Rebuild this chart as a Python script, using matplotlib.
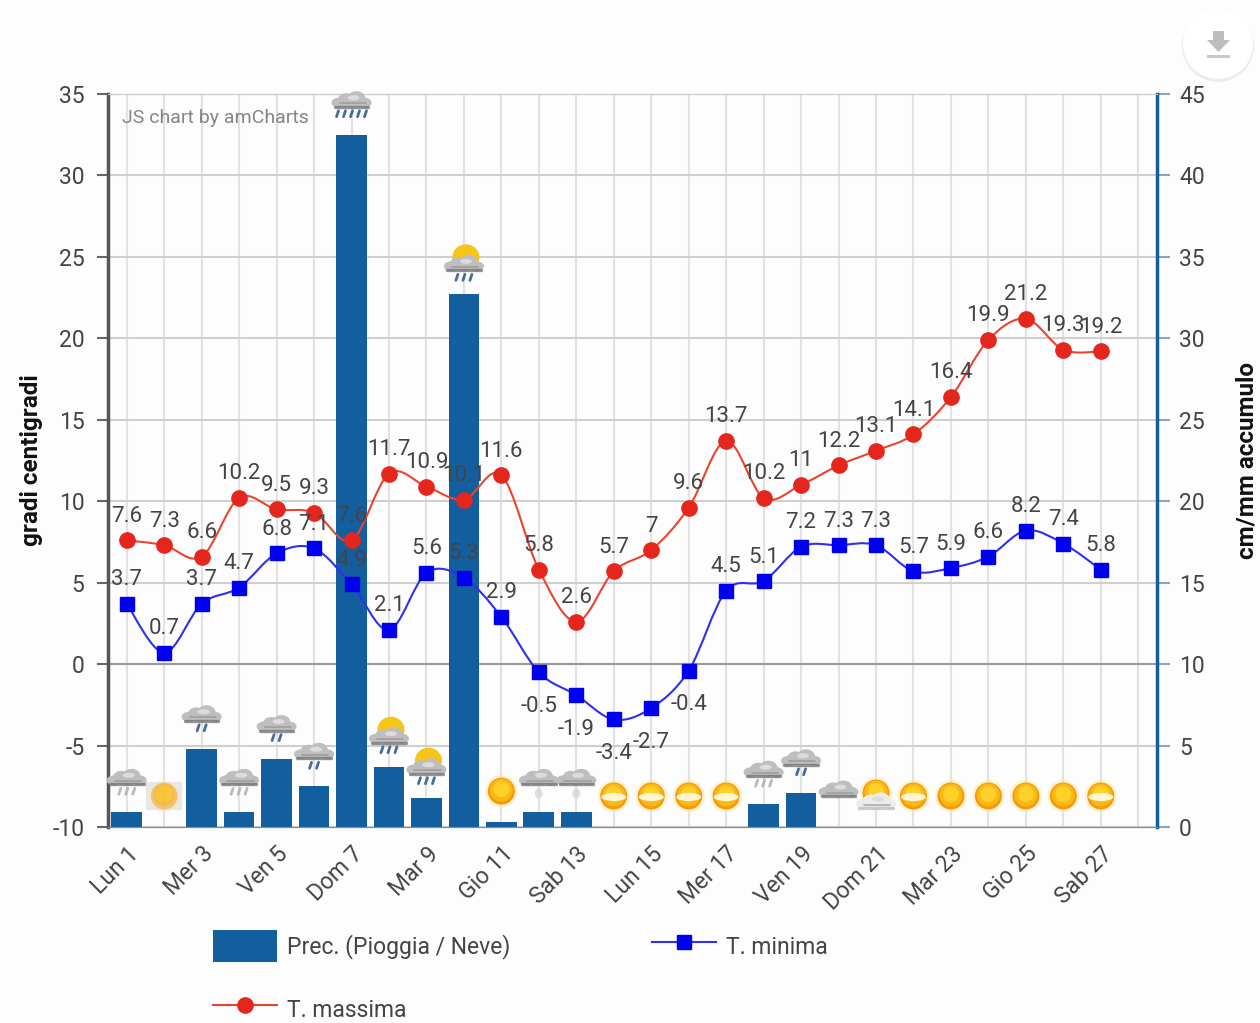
import numpy as np
import matplotlib
matplotlib.use('Agg')
import matplotlib.pyplot as plt
from matplotlib.lines import Line2D
from matplotlib.patches import Circle, Ellipse, Patch, PathPatch, Polygon, Rectangle
from matplotlib.path import Path

plt.rcParams['font.family'] = ['Roboto', 'DejaVu Sans']
plt.rcParams['axes.unicode_minus'] = False

days = ['Lun 1', 'Mar 2', 'Mer 3', 'Gio 4', 'Ven 5', 'Sab 6', 'Dom 7', 'Lun 8', 'Mar 9', 'Mer 10',
        'Gio 11', 'Ven 12', 'Sab 13', 'Dom 14', 'Lun 15', 'Mar 16', 'Mer 17', 'Gio 18', 'Ven 19',
        'Sab 20', 'Dom 21', 'Lun 22', 'Mar 23', 'Mer 24', 'Gio 25', 'Ven 26', 'Sab 27', 'Dom 28']
prec = [0.9, 0, 4.8, 0.9, 4.2, 2.5, 42.5, 3.7, 1.8, 32.7, 0.3, 0.9, 0.9, 0, 0, 0, 0, 1.4, 2.1,
        0, 0, 0, 0, 0, 0, 0, 0]
t_min = [3.7, 0.7, 3.7, 4.7, 6.8, 7.1, 4.9, 2.1, 5.6, 5.3, 2.9, -0.5, -1.9, -3.4, -2.7, -0.4,
         4.5, 5.1, 7.2, 7.3, 7.3, 5.7, 5.9, 6.6, 8.2, 7.4, 5.8]
t_max = [7.6, 7.3, 6.6, 10.2, 9.5, 9.3, 7.6, 11.7, 10.9, 10.1, 11.6, 5.8, 2.6, 5.7, 7, 9.6,
         13.7, 10.2, 11, 12.2, 13.1, 14.1, 16.4, 19.9, 21.2, 19.3, 19.2]
icons = ['light', 'haze', 'rain', 'light', 'rain', 'rain', 'heavy', 'sunrain', 'sunrain', 'sunrain',
         'sun', 'faint', 'faint', 'band', 'band', 'band', 'band', 'light', 'rain', 'cloud', 'suncloud',
         'band', 'sun', 'sun', 'sun', 'sun', 'band']

BLUE_BAR = '#135e9f'
TEXT = '#444444'
W, H = 1260, 1023


def smooth_path(xs, ys):
    # catmull-rom through the points, looks like amCharts smoothed lines
    pts = np.column_stack([xs, ys])
    verts = [pts[0]]
    codes = [Path.MOVETO]
    for i in range(len(pts) - 1):
        p0 = pts[max(i - 1, 0)]
        p1 = pts[i]
        p2 = pts[i + 1]
        p3 = pts[min(i + 2, len(pts) - 1)]
        verts += [p1 + (p2 - p0) / 6, p2 - (p3 - p1) / 6, p2]
        codes += [Path.CURVE4] * 3
    return Path(verts, codes)


def draw_sun(ov, x, y, hazy=False):
    a = 0.45 if hazy else 1
    if hazy:
        ov.add_patch(Rectangle((x - 18, y - 14), 36, 28, fc='#d9d9d9', ec='none', alpha=0.6, zorder=5))
    ov.add_patch(Circle((x, y), 16, fc='#ffe9a0', ec='none', alpha=0.5 * a, zorder=5))
    ov.add_patch(Circle((x, y), 13.5, fc='#f59a0c', ec='none', alpha=a, zorder=5))
    ov.add_patch(Circle((x, y - 1), 11.5, fc='#fbb714', ec='none', alpha=a, zorder=5))
    ov.add_patch(Circle((x, y - 2), 8, fc='#fdd02a', ec='none', alpha=a, zorder=5))


def draw_cloud(ov, x, y, body='#bebebe', base='#6f6f6f', w=40):
    # puffs first, then the dark rounded base
    for dx, dy, ew, eh in [(-0.32, 0, 0.36, 10), (0.32, 0, 0.36, 10), (-0.14, -3, 0.4, 13),
                           (0.12, -4, 0.46, 15), (0, 0, 0.7, 9)]:
        ov.add_patch(Ellipse((x + dx * w, y + dy), ew * w, eh, fc=body, ec='none', zorder=6))
    ov.add_patch(Ellipse((x + 0.05 * w, y - 5), 0.3 * w, 5, fc='#dcdcdc', ec='none', zorder=6))
    ov.plot([x - w * 0.42, x + w * 0.42], [y + 4, y + 4], color=base, lw=2.4, alpha=0.75, zorder=6,
            solid_capstyle='round')
    ov.plot([x - w * 0.3, x + w * 0.36], [y + 0.5, y + 0.5], color='#909090', lw=1.2, alpha=0.7, zorder=6,
            solid_capstyle='round')


def draw_drops(ov, x, y, n, color='#4a6a9a', alpha=1):
    for dx in np.linspace(-(n - 1) * 3.5, (n - 1) * 3.5, n):
        ov.plot([x + dx + 1, x + dx - 1], [y, y + 6], color=color, lw=2, alpha=alpha, zorder=6,
                solid_capstyle='round')


def draw_icon(ov, kind, x, y):
    if kind == 'sun':
        draw_sun(ov, x, y)
    elif kind == 'haze':
        draw_sun(ov, x, y, hazy=True)
    elif kind == 'band':
        draw_sun(ov, x, y)
        ov.add_patch(Ellipse((x, y + 1), 25, 8, fc='#fffbe8', ec='none', alpha=0.9, zorder=6))
    elif kind == 'suncloud':
        draw_sun(ov, x, y - 3)
        draw_cloud(ov, x, y + 8, body='#ececec', base='#bbbbbb')
    elif kind == 'cloud':
        draw_cloud(ov, x, y - 4)
    elif kind == 'light':
        draw_cloud(ov, x, y - 1)
        draw_drops(ov, x, y + 7, 3, color='#aaaaaa', alpha=0.8)
    elif kind == 'faint':
        draw_cloud(ov, x, y - 1)
        ov.add_patch(Ellipse((x, y + 12), 8, 10, fc='#cfd3da', ec='none', alpha=0.7, zorder=6))
    elif kind == 'rain':
        draw_cloud(ov, x, y - 1)
        draw_drops(ov, x, y + 7, 2)
    elif kind == 'heavy':
        draw_cloud(ov, x, y - 1)
        draw_drops(ov, x, y + 7, 5)
    elif kind == 'sunrain':
        ov.add_patch(Ellipse((x + 2, y - 6), 27, 26, fc='#f5c518', ec='none', zorder=5))
        draw_cloud(ov, x, y + 3)
        draw_drops(ov, x, y + 11, 3)


fig = plt.figure(figsize=(W / 100, H / 100), dpi=100, facecolor='#fdfdfd')
ax_r = fig.add_axes([108 / W, 1 - 827 / H, (1157 - 108) / W, (827 - 94) / H], facecolor='#fdfdfd')
ax = ax_r.twinx()
ax.set_zorder(2)
ax.patch.set_visible(False)

x = np.arange(len(prec))
x_pos = np.arange(len(days))
ax_r.set_xlim(-0.5, len(days) - 0.5)
ax_r.set_ylim(0, 45)
ax.set_ylim(-10, 35)

# bars and grid on the right axis (behind)
ax_r.bar(x, prec, width=0.82, color=BLUE_BAR, zorder=3)
ax_r.set_axisbelow(True)
ax_r.set_xticks(x_pos)
ax_r.set_xticklabels([d if i % 2 == 0 else '' for i, d in enumerate(days)], rotation=45, ha='right',
                     rotation_mode='anchor', fontsize=16.5, color=TEXT)
ax_r.tick_params(axis='x', length=0, pad=11)
ax_r.set_yticks(np.arange(0, 50, 5))
ax_r.grid(True, axis='x', color='#e2e2e2', lw=1.5)
ax_r.grid(True, axis='y', color='#cfcfcf', lw=1.5)
ax_r.axhline(10, color='#999999', lw=1.5, zorder=1)

# swap the sides, twinx puts ax on the right
ax_r.yaxis.tick_right()
ax_r.yaxis.set_label_position('right')
ax.yaxis.tick_left()
ax.yaxis.set_label_position('left')
ax_r.tick_params(axis='y', length=9, width=1.5, color='#8aa6bf', labelsize=16.5, labelcolor=TEXT, pad=7)
ax.set_yticks(np.arange(-10, 40, 5))
ax.tick_params(axis='y', length=8, width=1.5, color='#666666', labelsize=16.5, labelcolor=TEXT, pad=9)

for a in (ax, ax_r):
    a.spines['top'].set_color('#cccccc')
    a.spines['bottom'].set_color('#8a8a8a')
    a.spines['left'].set_visible(False)
    a.spines['right'].set_visible(False)
ax.spines['left'].set_visible(True)
ax.spines['left'].set_color('#555555')
ax.spines['left'].set_linewidth(2.5)
ax.spines['right'].set_visible(True)
ax.spines['right'].set_color(BLUE_BAR)
ax.spines['right'].set_linewidth(2.5)

ax.set_ylabel('gradi centigradi', fontsize=17.5, fontweight='bold', color='#111111', labelpad=7)
ax_r.set_ylabel('cm/mm accumulo', fontsize=17.5, fontweight='bold', color='#111111', labelpad=22)

# temperature lines
ax.add_patch(PathPatch(smooth_path(x, t_min), fc='none', ec='#2f2ff0', lw=1.5, zorder=3))
ax.add_patch(PathPatch(smooth_path(x, t_max), fc='none', ec='#e8452f', lw=1.5, zorder=3))
ax.plot(x, t_min, ls='none', marker='s', ms=10.5, color='#0000f0', zorder=4)
ax.plot(x, t_max, ls='none', marker='o', ms=11, color='#e5261c', zorder=4)

for xi, v in zip(x, t_min):
    offset = -34 if v < 0 else 24
    ax.annotate(str(v), (xi, v), xytext=(0, offset * 0.72), textcoords='offset points', ha='center',
                va='center', fontsize=16, color=TEXT, zorder=5)
for xi, v in zip(x, t_max):
    ax.annotate(str(v), (xi, v), xytext=(0, 24 * 0.72), textcoords='offset points', ha='center',
                va='center', fontsize=16, color=TEXT, zorder=5)

fig.text(122 / W, 1 - 118 / H, 'JS chart by amCharts', fontsize=14, color='#858585', va='center', zorder=10)

# overlay in pixel coordinates for the weather icons and the download button
ov = fig.add_axes([0, 0, 1, 1], facecolor='none')
ov.set_xlim(0, W)
ov.set_ylim(H, 0)
ov.axis('off')
ov.set_zorder(3)
for xi, v, kind in zip(x, prec, icons):
    px, py = ax_r.transData.transform((xi, v))
    draw_icon(ov, kind, px, H - py - 31)

# download button
ov.add_patch(Circle((1218, 46), 36, fc='#e6e6e6', ec='none', alpha=0.7))
ov.add_patch(Circle((1218, 44), 35, fc='#ffffff', ec='none'))
ov.add_patch(Polygon([(1213, 31), (1224, 31), (1224, 40), (1230, 40), (1218.5, 52), (1207, 40), (1213, 40)],
                     fc='#bdbdbd', ec='none'))
ov.add_patch(Rectangle((1207, 55), 23, 3, fc='#c8c8c8', ec='none'))

# legend
handles = [Patch(fc=BLUE_BAR, ec='none', label='Prec. (Pioggia / Neve)'),
           Line2D([], [], color='#e8452f', lw=1.5, marker='o', ms=11, mfc='#e5261c', mec='#e5261c', label='T. massima'),
           Line2D([], [], color='#2f2ff0', lw=1.5, marker='s', ms=10.5, mfc='#0000f0', mec='#0000f0', label='T. minima')]
leg = fig.legend(handles=handles, ncols=2, loc='upper left', bbox_to_anchor=(213 / W, 1 - 930 / H), frameon=False,
                 fontsize=16.5, handlelength=2.8, handleheight=1.8, handletextpad=0.42, columnspacing=6.2,
                 labelspacing=1.35, borderpad=0, borderaxespad=0, labelcolor=TEXT)

fig.savefig('out.png', dpi=100, facecolor=fig.get_facecolor())
